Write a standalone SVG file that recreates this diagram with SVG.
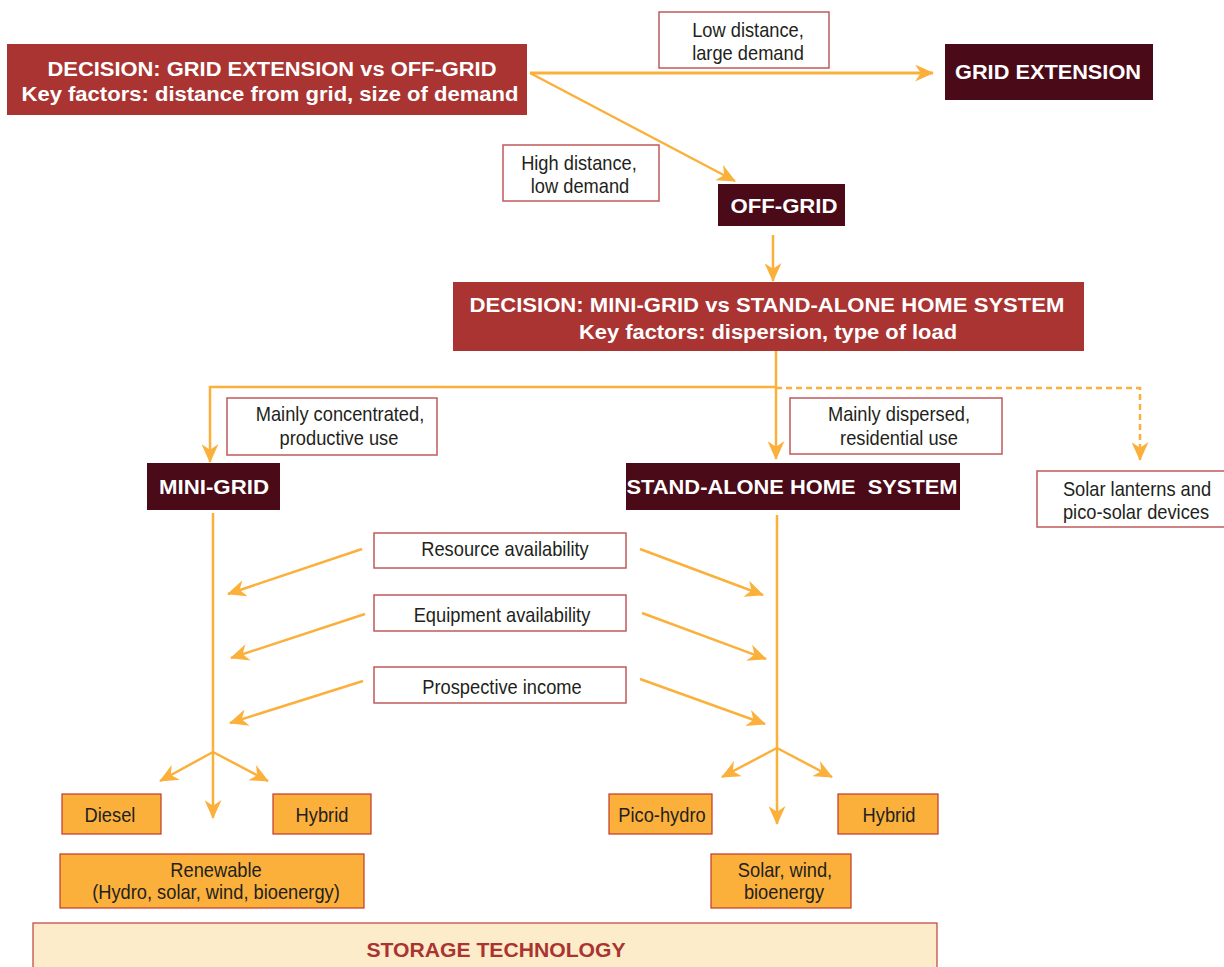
<svg xmlns="http://www.w3.org/2000/svg" width="1224" height="967" viewBox="0 0 1224 967">
  <style>
    .decision { fill: #a93432; }
    .outcome { fill: #4a0a18; }
    .label { fill: #ffffff; stroke: #c05a5a; stroke-width: 1.5; }
    .option { fill: #fbb03b; stroke: #c0392b; stroke-width: 1.2; }
    .storage { fill: #fdecc9; stroke: #c0403f; stroke-width: 1.2; }
    .head { font-family: "Liberation Sans", Arial, sans-serif; font-weight: bold; font-size: 20px; fill: #ffffff; text-anchor: middle; }
    .txt { font-family: "Liberation Sans", Arial, sans-serif; font-size: 21px; fill: #231f20; text-anchor: middle;
           transform-box: fill-box; transform-origin: center; transform: scaleX(0.87); }
    .flow { fill: none; stroke: #fbb03b; stroke-width: 2.5; }
    .dash { stroke-dasharray: 6 4; }
  </style>
  <defs>
    <marker id="arrow" viewBox="0 0 20 18" refX="19" refY="9" markerWidth="19" markerHeight="17" markerUnits="userSpaceOnUse" orient="auto">
      <path d="M0,0 L20,9 L0,18 L6,9 z" fill="#fbb03b"/>
    </marker>
  </defs>

  <!-- connectors -->
  <g id="connectors">
    <g class="flow" marker-end="url(#arrow)">
      <path d="M530,73 L933,73" stroke-width="3"/>
      <path d="M530,73 L735,181"/>
      <path d="M773,235 L773,281"/>
      <path d="M776,351 L776,459"/>
      <path d="M776,387 L210,387 L210,462"/>
      <path class="dash" d="M776,388 L1140,388 L1140,460"/>
      <path d="M213,513 L213,818"/>
      <path d="M213,752 L160,781"/>
      <path d="M213,752 L268,781"/>
      <path d="M777,515 L777,824"/>
      <path d="M777,748 L722,777"/>
      <path d="M777,748 L832,777"/>
      <path d="M362,549 L228,594"/>
      <path d="M365,614 L231,658"/>
      <path d="M363,681 L230,723"/>
      <path d="M640,549 L763,595"/>
      <path d="M642,613 L766,659"/>
      <path d="M640,679 L765,724"/>
    </g>
  </g>

  <g id="decision-grid">
    <rect class="decision" x="7" y="44" width="520" height="71"/>
    <text class="head" x="272" y="76" textLength="449" lengthAdjust="spacingAndGlyphs">DECISION: GRID EXTENSION vs OFF-GRID</text>
    <text class="head" x="270" y="101" textLength="497" lengthAdjust="spacingAndGlyphs">Key factors: distance from grid, size of demand</text>
  </g>

  <g id="label-low-distance">
    <rect class="label" x="659" y="12" width="170" height="56"/>
    <text class="txt" x="748" y="37">Low distance,</text>
    <text class="txt" x="748" y="60">large demand</text>
  </g>

  <g id="grid-extension">
    <rect class="outcome" x="945" y="44" width="208" height="56"/>
    <text class="head" x="1048" y="79" textLength="186" lengthAdjust="spacingAndGlyphs">GRID EXTENSION</text>
  </g>

  <g id="label-high-distance">
    <rect class="label" x="503" y="145" width="156" height="56"/>
    <text class="txt" x="579" y="170">High distance,</text>
    <text class="txt" x="580" y="193">low demand</text>
  </g>

  <g id="off-grid">
    <rect class="outcome" x="718" y="184" width="127" height="42"/>
    <text class="head" x="784" y="213" textLength="107" lengthAdjust="spacingAndGlyphs">OFF-GRID</text>
  </g>

  <g id="decision-system">
    <rect class="decision" x="453" y="282" width="631" height="69"/>
    <text class="head" x="767" y="312" textLength="595" lengthAdjust="spacingAndGlyphs">DECISION: MINI-GRID vs STAND-ALONE HOME SYSTEM</text>
    <text class="head" x="768" y="339" textLength="378" lengthAdjust="spacingAndGlyphs">Key factors: dispersion, type of load</text>
  </g>

  <g id="label-concentrated">
    <rect class="label" x="227" y="398" width="210" height="57"/>
    <text class="txt" x="340" y="421">Mainly concentrated,</text>
    <text class="txt" x="339" y="445">productive use</text>
  </g>

  <g id="label-dispersed">
    <rect class="label" x="790" y="398" width="212" height="56"/>
    <text class="txt" x="899" y="421">Mainly dispersed,</text>
    <text class="txt" x="899" y="445">residential use</text>
  </g>

  <g id="mini-grid">
    <rect class="outcome" x="147" y="463" width="133" height="47"/>
    <text class="head" x="214" y="494" textLength="110" lengthAdjust="spacingAndGlyphs">MINI-GRID</text>
  </g>

  <g id="stand-alone">
    <rect class="outcome" x="626" y="463" width="334" height="47"/>
    <text class="head" x="792" y="494" textLength="331" lengthAdjust="spacingAndGlyphs" xml:space="preserve">STAND-ALONE HOME  SYSTEM</text>
  </g>

  <g id="solar-lanterns">
    <rect class="label" x="1037" y="471" width="190" height="56"/>
    <text class="txt" x="1137" y="496">Solar lanterns and</text>
    <text class="txt" x="1136" y="519">pico-solar devices</text>
  </g>

  <g id="resource">
    <rect class="label" x="374" y="533" width="252" height="35"/>
    <text class="txt" x="505" y="556">Resource availability</text>
  </g>

  <g id="equipment">
    <rect class="label" x="374" y="595" width="252" height="36"/>
    <text class="txt" x="502" y="622">Equipment availability</text>
  </g>

  <g id="income">
    <rect class="label" x="374" y="667" width="252" height="36"/>
    <text class="txt" x="502" y="694">Prospective income</text>
  </g>

  <g id="diesel">
    <rect class="option" x="62" y="794" width="99" height="40"/>
    <text class="txt" x="110" y="822">Diesel</text>
  </g>

  <g id="hybrid-mini">
    <rect class="option" x="273" y="794" width="98" height="40"/>
    <text class="txt" x="322" y="822">Hybrid</text>
  </g>

  <g id="renewable">
    <rect class="option" x="60" y="854" width="304" height="54"/>
    <text class="txt" x="216" y="877">Renewable</text>
    <text class="txt" x="216" y="899">(Hydro, solar, wind, bioenergy)</text>
  </g>

  <g id="pico-hydro">
    <rect class="option" x="609" y="794" width="103" height="40"/>
    <text class="txt" x="662" y="822">Pico-hydro</text>
  </g>

  <g id="hybrid-home">
    <rect class="option" x="838" y="794" width="100" height="40"/>
    <text class="txt" x="889" y="822">Hybrid</text>
  </g>

  <g id="solar-wind">
    <rect class="option" x="711" y="854" width="140" height="54"/>
    <text class="txt" x="785" y="877">Solar, wind,</text>
    <text class="txt" x="784" y="899">bioenergy</text>
  </g>

  <g id="storage">
    <rect class="storage" x="33" y="923" width="904" height="50"/>
    <text class="head" x="496" y="957" textLength="259" lengthAdjust="spacingAndGlyphs" style="fill:#a93432">STORAGE TECHNOLOGY</text>
  </g>
</svg>
